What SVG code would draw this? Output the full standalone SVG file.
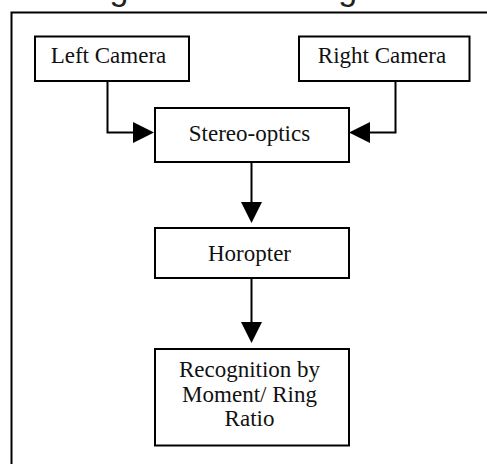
<svg xmlns="http://www.w3.org/2000/svg" width="487" height="464" viewBox="0 0 487 464">
  <style>
    .box { fill: #ffffff; stroke: #000000; stroke-width: 2; }
    .lbl { font-family: "Liberation Serif", "Times New Roman", serif; font-size: 23px; fill: #111111; text-anchor: middle; }
    .wire { fill: none; stroke: #000000; stroke-width: 2; }
    .title { font-family: "Liberation Sans", Arial, sans-serif; font-size: 34px; fill: #222222; }
  </style>
  <defs>
    <!-- filled triangular arrowhead; its base sits at the end of the wire -->
    <marker id="head" viewBox="0 0 21 21" refX="0" refY="10.5" markerWidth="21" markerHeight="21" markerUnits="userSpaceOnUse" orient="auto">
      <path d="M0,0 L21,10.5 L0,21 z" fill="#000000"/>
    </marker>
  </defs>

  <rect width="487" height="464" fill="#ffffff"/>

  <!-- page title, sitting above the visible area so only descenders show -->
  <text class="title" x="68" y="-0.5">Edge Detection Algorithm</text>

  <!-- outer frame -->
  <rect x="11.5" y="12.5" width="500" height="500" fill="none" stroke="#000000" stroke-width="2"/>

  <g id="connectors">
    <path class="wire" d="M107.5,81 V132.5 H133" marker-end="url(#head)"/>
    <path class="wire" d="M395.5,81 V132.5 H370" marker-end="url(#head)"/>
    <path class="wire" d="M251.5,162 V202" marker-end="url(#head)"/>
    <path class="wire" d="M251.5,278 V322" marker-end="url(#head)"/>
  </g>

  <g id="left-camera">
    <rect class="box" x="35" y="36.5" width="154" height="44.5"/>
    <text class="lbl" x="108.5" y="63">Left Camera</text>
  </g>

  <g id="right-camera">
    <rect class="box" x="299" y="36.5" width="170.5" height="44.5"/>
    <text class="lbl" x="382" y="63">Right Camera</text>
  </g>

  <g id="stereo-optics">
    <rect class="box" x="155" y="108" width="194" height="54"/>
    <text class="lbl" x="249.5" y="141">Stereo-optics</text>
  </g>

  <g id="horopter">
    <rect class="box" x="155" y="228" width="194" height="50"/>
    <text class="lbl" x="249.5" y="260.5">Horopter</text>
  </g>

  <g id="recognition">
    <rect class="box" x="155" y="349" width="194" height="96.5"/>
    <text class="lbl" x="249.5" y="377">Recognition by</text>
    <text class="lbl" x="249.5" y="401.5">Moment/ Ring</text>
    <text class="lbl" x="249.5" y="426">Ratio</text>
  </g>
</svg>
